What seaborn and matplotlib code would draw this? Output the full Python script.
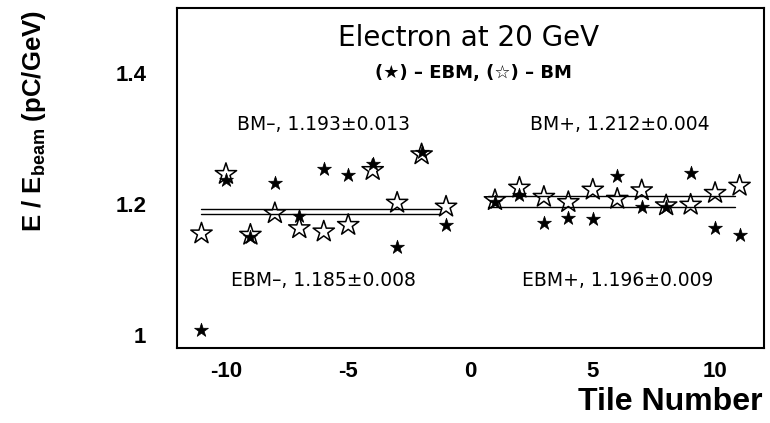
import numpy as np
import pandas as pd
import matplotlib
matplotlib.use("Agg")
import matplotlib.pyplot as plt
import seaborn as sns
from matplotlib.ticker import MultipleLocator

sns.set_theme(style="white")
plt.rcParams['font.family'] = ['DejaVu Sans']
plt.rcParams['mathtext.fontset'] = 'custom'
plt.rcParams['mathtext.rm'] = 'Liberation Sans:bold'
plt.rcParams['mathtext.it'] = 'Liberation Sans:bold'
plt.rcParams['mathtext.bf'] = 'Liberation Sans:bold'
plt.rcParams['axes.unicode_minus'] = False
plt.rcParams['text.color'] = 'black'
plt.rcParams['axes.labelcolor'] = 'black'
plt.rcParams['xtick.color'] = 'black'
plt.rcParams['ytick.color'] = 'black'

# ---- data ----
tiles_neg = [-11, -10, -9, -8, -7, -6, -5, -4, -3, -2, -1]
tiles_pos = [1, 2, 3, 4, 5, 6, 7, 8, 9, 10, 11]
ebm_neg = [1.008, 1.237, 1.150, 1.232, 1.182, 1.253, 1.245, 1.262, 1.134, 1.280, 1.168]
bm_neg = [1.155, 1.246, 1.153, 1.186, 1.163, 1.158, 1.168, 1.252, 1.202, 1.276, 1.196]
ebm_pos = [1.203, 1.214, 1.171, 1.179, 1.177, 1.243, 1.196, 1.196, 1.247, 1.164, 1.153]
bm_pos = [1.206, 1.225, 1.211, 1.203, 1.222, 1.208, 1.221, 1.198, 1.199, 1.217, 1.228]

fit_bm_neg, fit_ebm_neg = 1.193, 1.185
fit_bm_pos, fit_ebm_pos = 1.212, 1.196
range_neg = [-11, -1.2]
range_pos = [0.7, 10.8]

title = "Electron at 20 GeV"
legend_text = "(\u2605) \u2013 EBM, (\u2606) \u2013 BM"
lbl_bm_neg = "BM\u2013, 1.193\u00b10.013"
lbl_bm_pos = "BM+, 1.212\u00b10.004"
lbl_ebm_neg = "EBM\u2013, 1.185\u00b10.008"
lbl_ebm_pos = "EBM+, 1.196\u00b10.009"

df = pd.DataFrame({
    "tile": tiles_neg + tiles_pos,
    "ebm": ebm_neg + ebm_pos,
    "bm": bm_neg + bm_pos,
})

fig = plt.figure(figsize=(7.7, 4.23), dpi=100)
ax = fig.add_axes([0.2299, 0.1773, 0.7623, 0.8038])

# fit lines
for rng, vals in [(range_neg, [fit_bm_neg, fit_ebm_neg]), (range_pos, [fit_bm_pos, fit_ebm_pos])]:
    for v in vals:
        sns.lineplot(x=rng, y=[v, v], ax=ax, color="black", lw=1.0)

sns.scatterplot(data=df, x="tile", y="ebm", ax=ax, marker="*", s=110,
                color="black", edgecolor="black", linewidth=0.5, zorder=3)
sns.scatterplot(data=df, x="tile", y="bm", ax=ax, marker="*", s=260,
                facecolor="none", edgecolor="black", linewidth=1.1, zorder=4)

ax.set_xlim(-12, 12)
ax.set_ylim(0.98, 1.5)
ax.xaxis.set_major_locator(MultipleLocator(5))
ax.xaxis.set_minor_locator(MultipleLocator(1))
ax.yaxis.set_minor_locator(MultipleLocator(0.05))
ax.set_yticks([1.0, 1.2, 1.4])
ax.set_yticklabels(["1", "1.2", "1.4"])
ax.tick_params(which="both", direction="in", top=False, right=False, width=1.0, color="black")
ax.tick_params(which="major", length=13, labelsize=16)
ax.tick_params(which="minor", length=7)
ax.tick_params(axis="x", pad=9)
ax.tick_params(axis="y", pad=22)
for lab in ax.get_xticklabels() + ax.get_yticklabels():
    lab.set_fontfamily("Liberation Sans")
    lab.set_fontweight("bold")
for s in ax.spines.values():
    s.set_visible(True)
    s.set_color("black")
    s.set_linewidth(1.5)

ax.set_xlabel("Tile Number", fontsize=23, fontweight="bold", family="Liberation Sans", ha="right", va="top")
ax.xaxis.set_label_coords(0.997, -0.115)
ax.set_ylabel("E / E$_{\\rm beam}$ (pC/GeV)", fontsize=18.5, fontweight="bold", family="Liberation Sans", ha="right")
ax.yaxis.set_label_coords(-0.22, 0.995)

ax.text(-0.1, 1.454, title, fontsize=20, ha="center", va="center", family="DejaVu Sans")
ax.text(0.1, 1.400, legend_text, fontsize=13, ha="center", va="center", fontweight="bold", family="DejaVu Sans")
ax.text(-6.0, 1.322, lbl_bm_neg, fontsize=13.5, ha="center", va="center", family="DejaVu Sans")
ax.text(6.1, 1.322, lbl_bm_pos, fontsize=13.5, ha="center", va="center", family="DejaVu Sans")
ax.text(-6.0, 1.084, lbl_ebm_neg, fontsize=13.5, ha="center", va="center", family="DejaVu Sans")
ax.text(6.0, 1.084, lbl_ebm_pos, fontsize=13.5, ha="center", va="center", family="DejaVu Sans")

fig.savefig("out.png", dpi=100)
